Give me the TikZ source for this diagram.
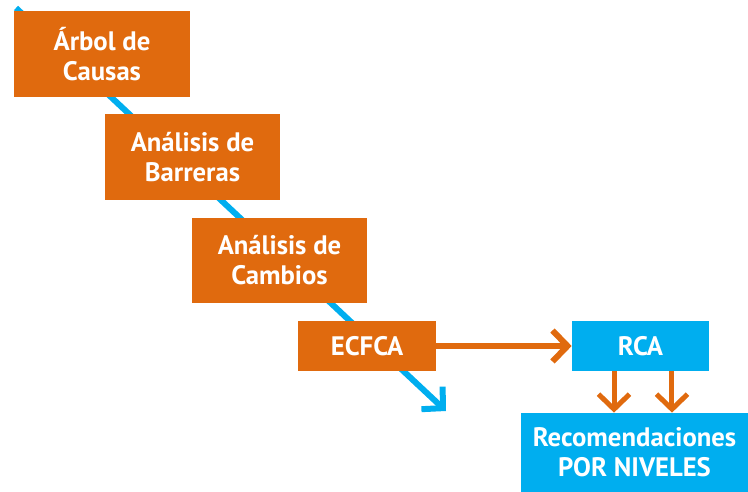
\documentclass[tikz,border=0pt]{standalone}
\usepackage{fontspec}
\setmainfont{PT Sans}
\usetikzlibrary{arrows.meta}

\definecolor{naranja}{RGB}{224,106,14}
\definecolor{celeste}{RGB}{0,174,239}

\begin{document}
\begin{tikzpicture}[x = 0.02cm, y = -0.02cm]
\tikzstyle{Caja}=[text = white, align = center, inner sep = 0pt,
                  font = \bfseries\fontsize{15.2}{17}\selectfont]
\tikzstyle{CajaNaranja}=[Caja, fill = naranja]
\tikzstyle{CajaCeleste}=[Caja, fill = celeste]
\tikzstyle{Flecha}=[line width = 0.12cm, -{Straight Barb[length = 0.3cm, width = 0.62cm]}]
\useasboundingbox (0,0) rectangle (748,492);
\coordinate (inicio) at (16,8);
\coordinate (fin) at (446,411);
\draw[Flecha, draw = celeste] (inicio) -- (fin);
\node[CajaNaranja, minimum width = 3.52cm, minimum height = 1.72cm] (arbol) at (102,54) {Árbol de\\Causas};
\node[CajaNaranja, minimum width = 3.5cm, minimum height = 1.72cm] (barreras) at (192.5,157) {Análisis de\\Barreras};
\node[CajaNaranja, minimum width = 3.5cm, minimum height = 1.7cm] (cambios) at (279.5,260.5) {Análisis de\\Cambios};
\node[CajaNaranja, minimum width = 2.76cm, minimum height = 1cm] (ecfca) at (367,346) {ECFCA};
\node[CajaCeleste, minimum width = 2.74cm, minimum height = 1cm] (rca) at (640.5,346) {RCA};
\node[CajaCeleste, minimum width = 4.54cm, minimum height = 1.58cm] (recom) at (634.5,452.5) {Recomendaciones\\POR NIVELES};
\draw[Flecha, draw = naranja] (ecfca) -- (rca);
\draw[Flecha, draw = naranja, line width = 0.1cm] ([xshift = -0.53cm]rca.south) -- ([xshift = -0.53cm]rca.south |- recom.north);
\draw[Flecha, draw = naranja, line width = 0.1cm] ([xshift = 0.63cm]rca.south) -- ([xshift = 0.63cm]rca.south |- recom.north);
\end{tikzpicture}
\end{document}
